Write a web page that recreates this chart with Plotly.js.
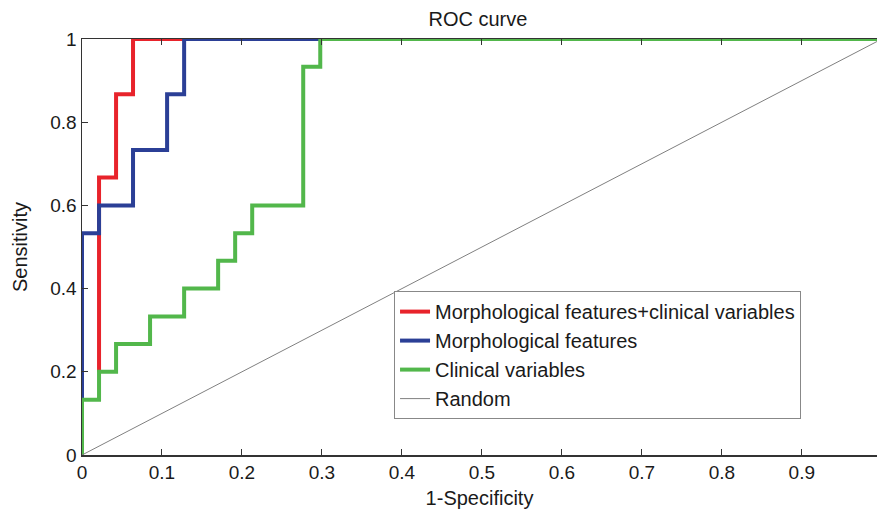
<!DOCTYPE html>
<html>
<head>
<meta charset="utf-8">
<script src="https://cdn.plot.ly/plotly-3.0.1.min.js"></script>
<style>html,body{margin:0;padding:0;background:#fff;}#chart{width:877px;height:513px;}</style>
</head>
<body>
<div id="chart"></div>
<script>
// Series names
const seriesNames = ["Morphological features+clinical variables", "Morphological features", "Clinical variables", "Random"];

// Morphological features + clinical variables (1-Specificity, Sensitivity)
const combinedFPR = [0.0213, 0.0213, 0.0426, 0.0426, 0.0638, 0.0638, 1];
const combinedTPR = [0.2, 0.667, 0.667, 0.867, 0.867, 1, 1];

// Morphological features
const morphFPR = [0, 0, 0.0213, 0.0213, 0.0638, 0.0638, 0.1064, 0.1064, 0.1277, 0.1277, 1];
const morphTPR = [0, 0.533, 0.533, 0.6, 0.6, 0.733, 0.733, 0.867, 0.867, 1, 1];

// Clinical variables
const clinFPR = [0, 0, 0.0213, 0.0213, 0.0426, 0.0426, 0.0851, 0.0851, 0.1277, 0.1277, 0.1702, 0.1702, 0.1915, 0.1915, 0.2128, 0.2128, 0.2766, 0.2766, 0.2979, 0.2979, 1];
const clinTPR = [0, 0.133, 0.133, 0.2, 0.2, 0.267, 0.267, 0.333, 0.333, 0.4, 0.4, 0.467, 0.467, 0.533, 0.533, 0.6, 0.6, 0.933, 0.933, 1, 1];

// Random
const randX = [0, 1];
const randY = [0, 1];

// Tick labels
const xTickVals = [0, 0.1, 0.2, 0.3, 0.4, 0.5, 0.6, 0.7, 0.8, 0.9];
const xTickText = ["0", "0.1", "0.2", "0.3", "0.4", "0.5", "0.6", "0.7", "0.8", "0.9"];
const yTickVals = [0, 0.2, 0.4, 0.6, 0.8, 1];
const yTickText = ["0", "0.2", "0.4", "0.6", "0.8", "1"];

const FONT = "Liberation Sans, Arial, Helvetica, sans-serif";

const traces = [
  {x: combinedFPR, y: combinedTPR, name: seriesNames[0], mode: "lines", line: {color: "#e8232b", width: 4}},
  {x: morphFPR, y: morphTPR, name: seriesNames[1], mode: "lines", line: {color: "#2b3f96", width: 4}},
  {x: clinFPR, y: clinTPR, name: seriesNames[2], mode: "lines", line: {color: "#52b74b", width: 4}},
  {x: randX, y: randY, name: seriesNames[3], mode: "lines", line: {color: "#808080", width: 1}}
];

const layout = {
  width: 877, height: 513,
  margin: {l: 82, r: 0, t: 39, b: 58, pad: 0},
  paper_bgcolor: "#fff", plot_bgcolor: "#fff",
  font: {family: FONT, size: 19, color: "#1a1a1a"},
  title: {text: "ROC curve", font: {family: FONT, size: 20, color: "#1a1a1a"}, x: 0.545, xanchor: "center", y: 0.962, yanchor: "middle"},
  showlegend: true,
  legend: {
    x: 0.3925, y: 0.394, xanchor: "left", yanchor: "top",
    bgcolor: "#fff", bordercolor: "#888", borderwidth: 1,
    font: {family: FONT, size: 20, color: "#1a1a1a"},
    tracegroupgap: 0
  },
  xaxis: {
    range: [0, 0.994], autorange: false,
    tickmode: "array", tickvals: xTickVals, ticktext: xTickText,
    ticks: "inside", ticklen: 6, tickwidth: 1, tickcolor: "#333",
    showline: true, linecolor: "#333", linewidth: 1.5, mirror: "ticks",
    showgrid: false, zeroline: false,
    tickfont: {family: FONT, size: 19, color: "#1a1a1a"},
    title: {text: "1-Specificity", font: {family: FONT, size: 20, color: "#1a1a1a"}, standoff: 8}
  },
  yaxis: {
    range: [0, 1], autorange: false,
    tickmode: "array", tickvals: yTickVals, ticktext: yTickText,
    ticks: "inside", ticklen: 6, tickwidth: 1, tickcolor: "#333",
    showline: true, linecolor: "#333", linewidth: 1.5, mirror: false,
    showgrid: false, zeroline: false,
    tickfont: {family: FONT, size: 19, color: "#1a1a1a"},
    title: {text: "Sensitivity", font: {family: FONT, size: 20, color: "#1a1a1a"}, standoff: 17}
  }
};

Plotly.newPlot("chart", traces, layout, {displayModeBar: false, staticPlot: true});
</script>
</body>
</html>
